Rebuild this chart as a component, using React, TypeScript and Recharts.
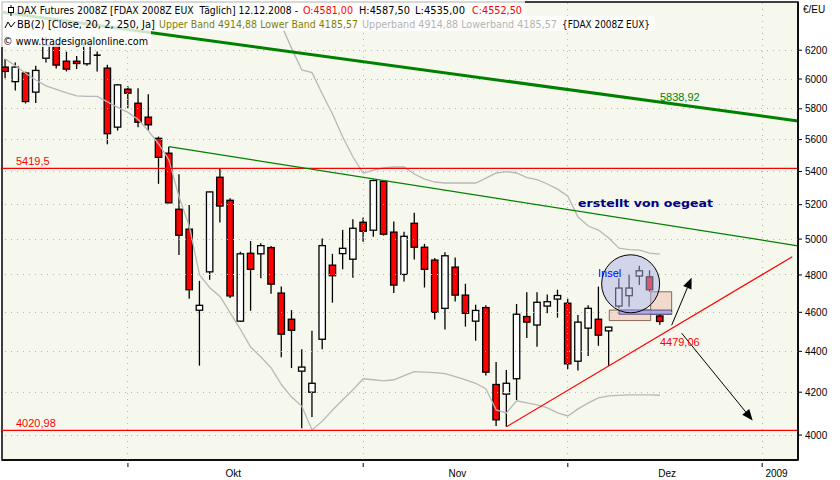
import React from "react";
import {
  ComposedChart,
  Bar,
  Line,
  XAxis,
  YAxis,
  CartesianGrid,
  ReferenceLine,
  ReferenceArea,
  ReferenceDot,
} from "recharts";

// daily bars FDAX 2008Z, 15.09.2008 - 12.12.2008
const opens = [
  6082, 5982, 6041, 5911, 6144, 6242, 6123, 6123, 6105, 6165,
  6075, 5680, 5931, 5837, 5745, 5608, 5514, 5173, 5057, 4611,
  4817, 5365, 5226, 4554, 4920, 4917, 4952, 4702, 4564, 4302,
  4200, 4461, 4854, 4918, 4887, 5097, 5051, 5340, 5040, 4803,
  5091, 4954, 4882, 4621, 4843, 4691, 4554, 4625, 4237, 4191,
  4265, 4578, 4534, 4633, 4670, 4648, 4351, 4518, 4564, 4504,
  4633, 4688, 4794, 4790, 4581,
];
const highs = [
  6139, 6114, 6050, 6091, 6290, 6245, 6190, 6160, 6272, 6191,
  6098, 5966, 5950, 5938, 5896, 5619, 5555, 5383, 5198, 4768,
  5277, 5419, 5238, 4929, 4989, 4976, 4961, 4737, 4612, 4410,
  4504, 5004, 4917, 5053, 5115, 5124, 5349, 5343, 5101, 5042,
  5153, 4973, 4893, 4926, 4896, 4752, 4640, 4637, 4347, 4308,
  4644, 4706, 4706, 4694, 4720, 4672, 4586, 4637, 4737, 4525,
  4782, 4803, 4850, 4826, 4587.5,
];
const lows = [
  6005, 5922, 5835, 5838, 6114, 6072, 6052, 6068, 6091, 6052,
  5570, 5658, 5803, 5680, 5658, 5325, 5208, 4911, 4672, 4329,
  4774, 5095, 4676, 4549, 4608, 4782, 4699, 4371, 4317, 4031,
  4083, 4411, 4651, 4831, 4785, 4985, 5014, 5020, 4702, 4764,
  4885, 4732, 4562, 4511, 4657, 4526, 4454, 4281, 4042, 4038,
  4163, 4468, 4423, 4595, 4572, 4313, 4305, 4377, 4428, 4328,
  4621, 4630, 4746, 4709, 4535,
];
const closes = [
  6052, 6082, 5848, 6059, 6236, 6096, 6068, 6107, 6248, 6160,
  5638, 5960, 5904, 5712, 5695, 5488, 5211, 5022, 4720, 4637,
  5276, 5192, 4687, 4917, 4831, 4963, 4750, 4487, 4507, 4322,
  4243, 4963, 4796, 4948, 5062, 5045, 5345, 5028, 4745, 5016,
  4954, 4831, 4600, 4906, 4691, 4595, 4610, 4297, 4070, 4243,
  4590, 4549, 4653, 4656, 4689, 4338, 4549, 4621, 4482, 4523,
  4729, 4729, 4823, 4720, 4552.5,
];

const upperBand = [
  null, null, null, null, null, null, null, null, null, null,
  null, null, null, null, null, null, null, null, null, null,
  null, null, null, null, null, null, null, 6380, 6213, 6062,
  6044, 5898, 5766, 5617, 5490, 5389, 5409, 5422, 5428, 5428,
  5385, 5354, 5336, 5330, 5330, 5330, 5330, 5360, 5391, 5400,
  5391, 5363, 5351, 5324, 5293, 5251, 5127, 5075, 5052, 5006,
  4949, 4941, 4938, 4921, 4914.88,
];
const lowerBand = [
  6139, 6091, 6039, 5993, 5953, 5930, 5906, 5886, 5883, 5882,
  5846, 5809, 5776, 5730, 5656, 5572, 5473, 5246, 5074, 4800,
  4731, 4684, 4597, 4511, 4421, 4372, 4318, 4237, 4177, 4133,
  4023, 4064, 4116, 4164, 4212, 4265, 4260, 4255, 4260, 4280,
  4300, 4297, 4295, 4290, 4275, 4260, 4243, 4216, 4116, 4102,
  4159, 4149, 4140, 4126, 4102, 4088, 4121, 4149, 4173, 4183,
  4185, 4187, 4187, 4187, 4185.57,
];

const priceTicks = [4000, 4200, 4400, 4600, 4800, 5000, 5200, 5400, 5600, 5800, 6000, 6200];
const monthStarts = [12, 35, 55, 74];
const monthLabelPos = [22.3, 44.2, 64.7, 75.4];
const monthLabels = ["Okt", "Nov", "Dez", "2009"];

const resistance = 5419.5;
const support = 4020.98;

// drawn trend lines [bar index, price]
const longTrend = [{ i: -0.31, p: 6474 }, { i: 77.5, p: 5720 }];
const downTrend = [{ i: 16, p: 5555 }, { i: 77.5, p: 4962 }];
const upTrend = [{ i: 49, p: 4038 }, { i: 76.94, p: 4901 }];
const arrowUp = [{ i: 65.15, p: 4533 }, { i: 67.1, p: 4785 }];
const arrowDown = [{ i: 66.13, p: 4492 }, { i: 73.07, p: 4067 }];

const X_DOMAIN = [-0.31, 77.5];
const Y_DOMAIN = [3888, 6550];

const data = opens.map((o, i) => ({
  i,
  o,
  h: highs[i],
  l: lows[i],
  c: closes[i],
  range: [lows[i], highs[i]],
  ub: upperBand[i],
  lb: lowerBand[i],
}));

const Candle = (props: any) => {
  const { x, y, width, height, payload } = props;
  if (!payload || x == null) return null;
  const { o, h, l, c } = payload;
  const cx = x + width / 2;
  const top = Math.min(y, y + height);
  const span = Math.abs(height);
  const lnH = Math.log(h);
  const lnL = Math.log(l);
  const py = (v: number) => (lnH === lnL ? top : top + ((lnH - Math.log(v)) / (lnH - lnL)) * span);
  const yo = py(o);
  const yc = py(c);
  const bt = Math.min(yo, yc);
  const bh = Math.abs(yc - yo);
  return (
    <g>
      <line x1={cx} x2={cx} y1={top} y2={top + span} stroke="#000" strokeWidth={1.3} />
      {bh < 1.5 ? (
        <line x1={cx - 3.5} x2={cx + 3.5} y1={bt} y2={bt} stroke="#000" strokeWidth={1.6} />
      ) : (
        <rect
          x={cx - 3.2}
          y={bt}
          width={6.4}
          height={bh}
          fill={c >= o ? "#FFFFFF" : "#FF0000"}
          stroke="#000"
          strokeWidth={1.3}
        />
      )}
    </g>
  );
};

const Arrow = (props: any) => {
  const { x1, y1, x2, y2 } = props;
  if (x1 == null) return null;
  const a = Math.atan2(y2 - y1, x2 - x1);
  const len = 11;
  const half = 4.5;
  const bx = x2 - len * Math.cos(a);
  const by = y2 - len * Math.sin(a);
  const pts = [
    [x2, y2],
    [bx + half * Math.sin(a), by - half * Math.cos(a)],
    [bx - half * Math.sin(a), by + half * Math.cos(a)],
  ]
    .map((p) => p.join(","))
    .join(" ");
  return (
    <g>
      <line x1={x1} y1={y1} x2={bx} y2={by} stroke="#000" strokeWidth={1} />
      <polygon points={pts} fill="#000" />
    </g>
  );
};

const XTick = (props: any) => {
  const { x, y, payload } = props;
  const v = payload.value;
  const li = monthLabelPos.indexOf(v);
  if (li >= 0) {
    return (
      <text x={x} y={y + 17} textAnchor="middle" fontSize={10} fontFamily="Liberation Sans" fill="#000">
        {monthLabels[li]}
      </text>
    );
  }
  return <line x1={x} x2={x} y1={y + 3} y2={y + 7} stroke="#000" strokeWidth={1} />;
};

const lineLabel = (text: string, color: string, dx: number, dy: number) => (props: any) => {
  const vb = props.viewBox || {};
  const x = vb.cx != null ? vb.cx : vb.x;
  const y = vb.cy != null ? vb.cy : vb.y;
  return (
    <text x={x + dx} y={y + dy} fontSize={11} fontFamily="Liberation Sans" fill={color}>
      {text}
    </text>
  );
};

const legendFont = { fontFamily: "DejaVu Sans", fontSize: 10 };

export default function App() {
  return (
    <div style={{ position: "fixed", left: 0, top: 0, width: 840, height: 480, background: "#FFFFFF" }}>
      <ComposedChart
        width={840}
        height={480}
        data={data}
        margin={{ top: 2, right: 0, bottom: 0, left: 2 }}
      >
        <CartesianGrid vertical={false} horizontal={false} fill="#F6F8EE" />
        <XAxis
          dataKey="i"
          type="number"
          domain={X_DOMAIN}
          allowDataOverflow
          ticks={[...monthStarts, ...monthLabelPos]}
          interval={0}
          tick={<XTick />}
          tickLine={false}
          tickSize={0}
          tickMargin={0}
          height={20}
          axisLine={{ stroke: "#000", strokeWidth: 1.5 }}
        />
        <YAxis
          orientation="right"
          scale="log"
          type="number"
          domain={Y_DOMAIN}
          allowDataOverflow
          ticks={priceTicks}
          interval={0}
          width={42}
          tickSize={4}
          tickMargin={3}
          tick={{ fontSize: 10, fontFamily: "Liberation Sans", fill: "#000" }}
          tickLine={{ stroke: "#000" }}
          axisLine={{ stroke: "#000", strokeWidth: 1.5 }}
        />
        {priceTicks.map((t) => (
          <ReferenceLine
            key={"h" + t}
            y={t}
            stroke="#B4B4B4"
            strokeWidth={1}
            strokeDasharray="1 5"
            shapeRendering="crispEdges"
          />
        ))}
        {monthStarts.map((m) => (
          <ReferenceLine
            key={"v" + m}
            x={m}
            stroke="#B4B4B4"
            strokeWidth={1}
            strokeDasharray="1 5"
            shapeRendering="crispEdges"
          />
        ))}
        <Line dataKey="ub" stroke="#B8B8B8" strokeWidth={1.3} dot={false} isAnimationActive={false} />
        <Line dataKey="lb" stroke="#B8B8B8" strokeWidth={1.3} dot={false} isAnimationActive={false} />
        <ReferenceLine
          y={resistance}
          stroke="#FF0000"
          strokeWidth={1.3}
          label={lineLabel("5419,5", "#FF0000", 14, -3)}
        />
        <ReferenceLine
          y={support}
          stroke="#FF0000"
          strokeWidth={1.3}
          label={lineLabel("4020,98", "#FF0000", 14, -3)}
        />
        <Bar dataKey="range" barSize={8} shape={(p: any) => <Candle {...p} />} isAnimationActive={false} />
        <ReferenceLine
          segment={longTrend.map((d) => ({ x: d.i, y: d.p }))}
          stroke="#008000"
          strokeWidth={3}
          ifOverflow="hidden"
        />
        <ReferenceLine
          segment={downTrend.map((d) => ({ x: d.i, y: d.p }))}
          stroke="#008000"
          strokeWidth={1.3}
          ifOverflow="hidden"
        />
        <ReferenceLine
          segment={upTrend.map((d) => ({ x: d.i, y: d.p }))}
          stroke="#FF0000"
          strokeWidth={1.2}
          ifOverflow="hidden"
        />
        <ReferenceArea x1={59.05} x2={63.1} y1={4557} y2={4612} fill="#F0CDBE" fillOpacity={0.7} stroke="#6B4A3A" strokeWidth={0.8} />
        <ReferenceArea x1={63.1} x2={65.15} y1={4590} y2={4709} fill="#F0CDBE" fillOpacity={0.7} stroke="#6B4A3A" strokeWidth={0.8} />
        <ReferenceArea x1={60} x2={65.15} y1={4590} y2={4612} fill="#A8A2E2" fillOpacity={0.9} stroke="#3A3A6A" strokeWidth={0.8} />
        <ReferenceDot x={61.14} y={4752} r={29} fill="#AEB2E4" fillOpacity={0.5} stroke="#000" strokeWidth={1} />
        <ReferenceLine segment={arrowUp.map((d) => ({ x: d.i, y: d.p }))} shape={(p: any) => <Arrow {...p} />} />
        <ReferenceLine segment={arrowDown.map((d) => ({ x: d.i, y: d.p }))} shape={(p: any) => <Arrow {...p} />} />
        <ReferenceDot x={64} y={5838.92} r={0} fill="none" stroke="none" label={lineLabel("5838,92", "#008000", 0, -2)} />
        <ReferenceDot x={64} y={4479.06} r={0} fill="none" stroke="none" label={lineLabel("4479,06", "#FF0000", 0, 10)} />
        <ReferenceArea
          x1={X_DOMAIN[0]}
          x2={X_DOMAIN[1]}
          y1={Y_DOMAIN[0]}
          y2={Y_DOMAIN[1]}
          fill="none"
          stroke="#000"
          strokeWidth={1.5}
          ifOverflow="visible"
        />
      </ComposedChart>
      <svg
        width={840}
        height={480}
        style={{ position: "absolute", left: 0, top: 0, pointerEvents: "none" }}
      >
        <rect x={0} y={1} width={525} height={15} fill="#FFFFFF" fillOpacity={0.8} />
        <rect x={0} y={16} width={655} height={15} fill="#FFFFFF" fillOpacity={0.8} />
        <rect x={0} y={31} width={151} height={16} fill="#FFFFFF" fillOpacity={0.8} />
        <line x1={11} x2={11} y1={5} y2={16} stroke="#000" />
        <rect x={8.5} y={7.5} width={5} height={5} fill="#FFFFFF" stroke="#000" />
        <path d="M5 28 L8 22 L11 27 L15 22" fill="none" stroke="#000" />
        <g {...legendFont}>
          <text x={17} y={14} textLength={281} lengthAdjust="spacingAndGlyphs" fill="#000">
            DAX Futures 2008Z [FDAX 2008Z EUX{"\u00A0"} Täglich] 12.12.2008 -
          </text>
          <text x={303} y={14} textLength={50} lengthAdjust="spacingAndGlyphs" fill="#FF0000">O:4581,00</text>
          <text x={359} y={14} textLength={51} lengthAdjust="spacingAndGlyphs" fill="#000">H:4587,50</text>
          <text x={415} y={14} textLength={50} lengthAdjust="spacingAndGlyphs" fill="#000">L:4535,00</text>
          <text x={472} y={14} textLength={50} lengthAdjust="spacingAndGlyphs" fill="#FF0000">C:4552,50</text>
          <text x={17} y={28} textLength={138} lengthAdjust="spacingAndGlyphs" fill="#000">BB(2) [Close, 20, 2, 250, Ja]</text>
          <text x={159} y={28} textLength={199} lengthAdjust="spacingAndGlyphs" fill="#808000">
            Upper Band 4914,88 Lower Band 4185,57
          </text>
          <text x={362} y={28} textLength={195} lengthAdjust="spacingAndGlyphs" fill="#B4B4B4">
            Upperband 4914,88 Lowerband 4185,57
          </text>
          <text x={562} y={28} textLength={88} lengthAdjust="spacingAndGlyphs" fill="#000">{"{FDAX 2008Z EUX}"}</text>
          <text x={3} y={44.5} textLength={145} lengthAdjust="spacingAndGlyphs" fill="#000">© www.tradesignalonline.com</text>
        </g>
        <text x={803} y={13} fontSize={10} fontFamily="Liberation Sans" fill="#000">€/EU</text>
        <text x={578} y={206.5} textLength={135} lengthAdjust="spacingAndGlyphs" fontSize={11} fontWeight="bold" fontFamily="DejaVu Sans" fill="#000080">
          erstellt von oegeat
        </text>
        <text x={598} y={276.5} fontSize={11} fontFamily="Liberation Sans" fill="#0000FF">Insel</text>
      </svg>
    </div>
  );
}
